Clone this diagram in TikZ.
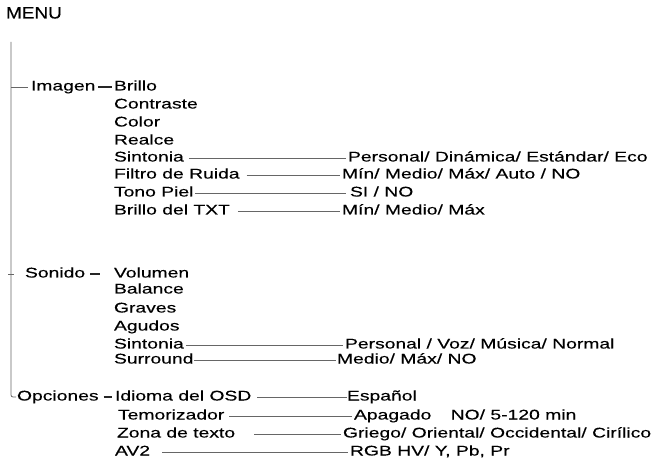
\documentclass[tikz,border=0pt]{standalone}
\usepackage{fontspec}
\setmainfont{Liberation Sans}[FakeStretch=1.38,FakeBold=0.25]
\newfontfamily\menufont{Liberation Sans}[FakeStretch=1.15,FakeBold=0.25]
\usetikzlibrary{positioning}

\begin{document}
\begin{tikzpicture}[x=1pt,y=-1pt,
  every node/.style={inner sep=0pt,outer sep=0pt,anchor=west,text height=10pt,text depth=3pt,
                     text=black,font=\fontsize{14}{17}\selectfont}]

\tikzset{rama/.style={draw=black!60,line width=0.8pt},
         guion/.style={draw=black!85,line width=1.7pt},
         enlace/.style={draw=black!60,line width=0.8pt}}

\useasboundingbox (0,0) rectangle (664,462);

\node[font=\menufont\fontsize{16.5}{19}\selectfont] (menu) at (6,15) {MENU};
\coordinate (tope) at (11,42);

% Imagen
\node (imagen) at (31,87) {Imagen};
\node (brillo) at (114,87) {Brillo};
\node (contraste) at (114,105) {Contraste};
\node (color) at (114,123) {Color};
\node (realce) at (114,141) {Realce};
\node (sint1) at (114,158) {Sintonia};
\node (filtro) at (114,175) {Filtro de Ruida};
\node (tono) at (114,193) {Tono Piel};
\node (btxt) at (114,211) {Brillo del TXT};
\node (sint1o) at (348,158) {Personal/ Dinámica/ Estándar/ Eco};
\node (filtroo) at (342,175) {Mín/ Medio/ Máx/ Auto / NO};
\node (tonoo) at (350,193) {SI / NO};
\node (btxto) at (342,211) {Mín/ Medio/ Máx};

% Sonido
\node (sonido) at (25,274) {Sonido};
\node (volumen) at (114,274) {Volumen};
\node (balance) at (114,290) {Balance};
\node (graves) at (114,309) {Graves};
\node (agudos) at (114,327) {Agudos};
\node (sint2) at (114,345) {Sintonia};
\node (surround) at (114,360) {Surround};
\node (sint2o) at (345,345) {Personal / Voz/ Música/ Normal};
\node (surroundo) at (337,360) {Medio/ Máx/ NO};

% Opciones
\node (opciones) at (17,397) {Opciones};
\node (idioma) at (115,397) {Idioma del OSD};
\node (temo) at (118,416) {Temorizador};
\node (zona) at (117,434) {Zona de texto};
\node (av) at (115,452) {AV2};
\node (idiomao) at (347,397) {Español};
\node (temoo) at (354,416) {Apagado \quad NO/ 5-120 min};
\node (zonao) at (343,434) {Griego/ Oriental/ Occidental/ Cirílico};
\node (avo) at (350,452) {RGB HV/ Y, Pb, Pr};

\draw[rama,rounded corners=2pt] (tope) |- ([xshift=-1pt]opciones.west);
\draw[rama] (tope |- imagen.west) -- ([xshift=-3pt]imagen.west);
\draw[rama] ([xshift=-3pt]tope |- sonido.west) -- ([xshift=3pt]tope |- sonido.west);

\draw[guion,shorten <=3pt,shorten >=2pt] (imagen.east) -- (brillo.west);
\draw[guion,shorten <=5pt,shorten >=14pt] (sonido.east) -- (volumen.west);
\draw[guion,shorten <=5pt,shorten >=3pt] (opciones.east) -- (idioma.west);

\draw[enlace,shorten <=5pt,shorten >=2pt] (sint1.east) -- (sint1o.west);
\draw[enlace,shorten <=7pt,shorten >=2pt] (filtro.east) -- (filtroo.west);
\draw[enlace,shorten <=2pt,shorten >=4pt] (tono.east) -- (tonoo.west);
\draw[enlace,shorten <=8pt,shorten >=2pt] (btxt.east) -- (btxto.west);
\draw[enlace,shorten <=2pt,shorten >=2pt] (sint2.east) -- (sint2o.west);
\draw[enlace,shorten <=1pt,shorten >=1pt] (surround.east) -- (surroundo.west);
\draw[enlace,shorten <=6pt] (idioma.east) -- (idiomao.west);
\draw[enlace,shorten <=5pt,shorten >=2pt] (temo.east) -- (temoo.west);
\draw[enlace,shorten <=19pt,shorten >=2pt] (zona.east) -- (zonao.west);
\draw[enlace,shorten <=12pt,shorten >=2pt] (av.east) -- (avo.west);
\end{tikzpicture}
\end{document}
